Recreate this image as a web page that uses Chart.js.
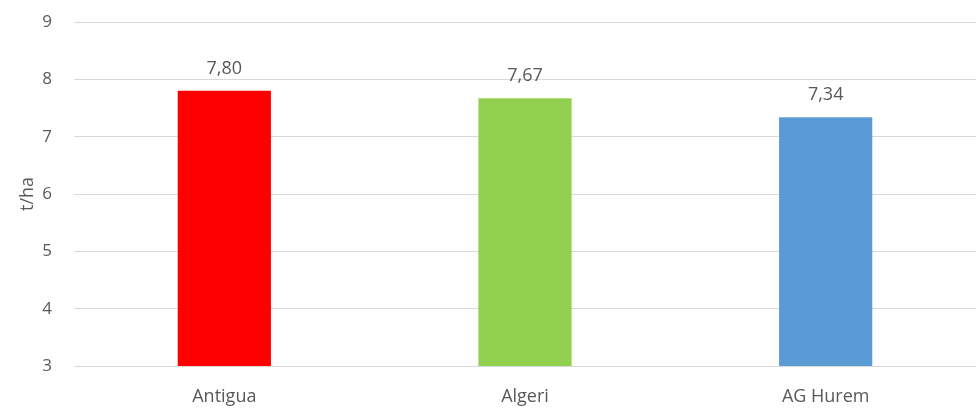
<!DOCTYPE html>
<html>
<head>
<meta charset="utf-8">
<script src="https://cdn.jsdelivr.net/npm/chart.js@4"></script>
<style>
  html, body { margin: 0; padding: 0; background: #fff; }
  #wrap { width: 976px; height: 414px; }
</style>
</head>
<body>
<div id="wrap"><canvas id="chart0"></canvas></div>
<script>
// data
const categories = ['Antigua', 'Algeri', 'AG Hurem'];
const yields = [7.80, 7.67, 7.34];
const barColors = ['#ff0000', '#92d050', '#5b9bd5'];
const yMin = 3;
const yMax = 9;

const textColor = '#595959';
const fontFamily = "'Open Sans', 'DejaVu Sans', sans-serif";

// etichette sopra le barre (formato con virgola)
const valueLabels = {
    id: 'valueLabels',
    afterDatasetsDraw(chart) {
        const ctx = chart.ctx;
        const meta = chart.getDatasetMeta(0);
        ctx.save();
        ctx.fillStyle = textColor;
        ctx.font = '18px ' + fontFamily;
        ctx.textAlign = 'center';
        ctx.textBaseline = 'alphabetic';
        meta.data.forEach((bar, i) => {
            const txt = yields[i].toFixed(2).replace('.', ',');
            ctx.fillText(txt, bar.x, bar.y - 17);
        });
        ctx.restore();
    }
};

const ctx = document.getElementById('chart0').getContext('2d');
const chart0 = new Chart(ctx, {
    type: 'bar',
    data: {
        labels: categories,
        datasets: [{
            data: yields,
            backgroundColor: barColors,
            borderWidth: 0,
            barPercentage: 0.31,
            categoryPercentage: 1
        }]
    },
    options: {
        responsive: true,
        maintainAspectRatio: false,
        animation: false,
        layout: { padding: { top: 22, right: 0, left: 0, bottom: 0 } },
        plugins: {
            legend: { display: false },
            tooltip: { enabled: false }
        },
        scales: {
            x: {
                grid: { display: false, drawTicks: false },
                border: { display: false },
                ticks: {
                    color: textColor,
                    font: { family: fontFamily, size: 18 },
                    padding: 20
                },
                afterFit: (scale) => { scale.height = 48; }
            },
            y: {
                min: yMin,
                max: yMax,
                grid: { color: '#d9d9d9', lineWidth: 1, drawTicks: false },
                border: { display: false },
                ticks: {
                    stepSize: 1,
                    color: textColor,
                    font: { family: fontFamily, size: 17 },
                    padding: 22
                },
                title: {
                    display: true,
                    text: 't/ha',
                    color: textColor,
                    font: { family: fontFamily, size: 18 },
                    padding: { top: 17, bottom: 0 }
                },
                afterFit: (scale) => {
                    scale.width = 74;
                    scale.paddingTop = 0;
                    scale.paddingBottom = 0;
                }
            }
        }
    },
    plugins: [valueLabels]
});
</script>
</body>
</html>
